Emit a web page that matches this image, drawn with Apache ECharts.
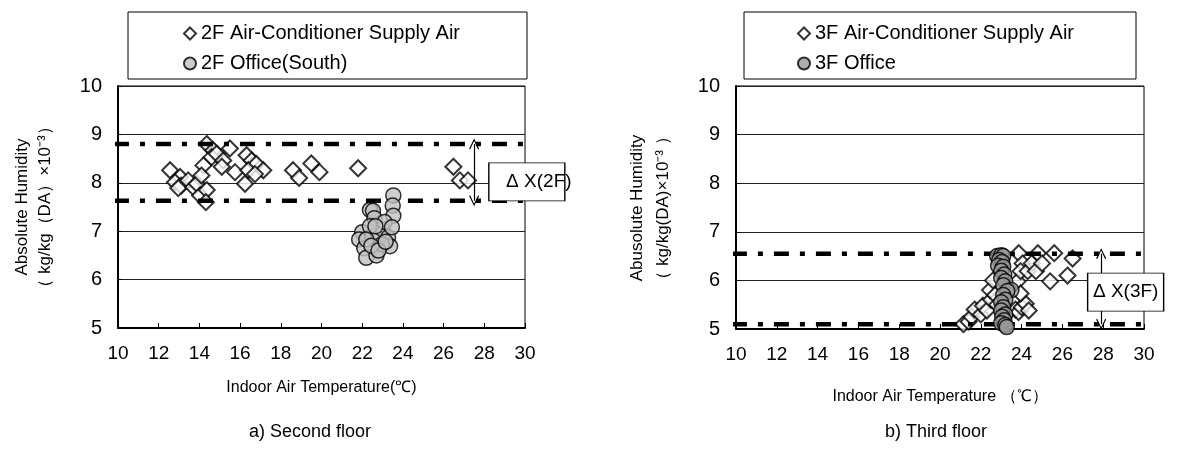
<!DOCTYPE html>
<html><head><meta charset="utf-8">
<script src="https://cdn.jsdelivr.net/npm/echarts@6/dist/echarts.min.js"></script>
<style>html,body{margin:0;padding:0;background:#fff}#c{width:1182px;height:461px}</style>
</head><body><div id="c"></div>
<script>
// ---- data ----
const seriesNames2F = ['2F Air-Conditioner Supply Air', '2F Office(South)'];
const seriesNames3F = ['3F Air-Conditioner Supply Air', '3F Office'];
const xTickRange = [10, 30, 2];
const yTickRange = [5, 10, 1];

const supply2F = [[12.56,8.26],[13.05,8.12],[12.8,8.01],[13.1,7.94],[13.45,8.05],[12.96,7.89],[13.7,7.91],[13.87,7.98],[14.03,7.74],[14.36,7.85],[14.32,7.6],[14.2,8.36],[14.1,8.15],[14.36,8.8],[14.68,8.67],[14.6,8.53],[14.85,8.6],[15.17,8.46],[15.1,8.33],[15.5,8.71],[15.75,8.22],[16.32,8.57],[16.57,8.46],[16.8,8.39],[17.14,8.26],[16.4,8.26],[16.24,7.98],[16.73,8.18],[18.6,8.26],[18.9,8.1],[19.5,8.4],[19.9,8.22],[21.8,8.3],[26.48,8.33],[26.8,8.05],[27.2,8.05]];
const office2F = [[23.53,7.74],[23.5,7.53],[23.53,7.32],[22.38,7.44],[22.53,7.42],[22.6,7.27],[22.0,6.98],[21.85,6.83],[22.1,6.65],[22.2,6.45],[22.7,6.5],[22.5,6.9],[22.78,6.94],[23.0,7.04],[23.27,6.87],[23.37,6.69],[22.97,6.73],[22.38,7.1],[23.1,7.19],[23.46,7.08],[22.2,6.83],[22.45,6.7],[22.8,6.6],[23.15,6.78],[22.65,7.1]];
const supply3F = [[21.15,5.1],[21.4,5.15],[21.55,5.25],[21.7,5.4],[22.0,5.3],[22.1,5.48],[22.3,5.38],[22.5,5.6],[22.45,5.8],[22.6,6.0],[22.7,5.7],[22.8,5.5],[23.7,5.4],[23.85,5.35],[24.0,5.45],[24.2,5.52],[24.35,5.38],[23.8,5.98],[23.95,5.73],[23.86,6.56],[24.05,6.35],[23.95,6.19],[24.3,6.19],[24.5,6.35],[24.7,6.19],[24.8,6.56],[25.0,6.35],[25.4,5.98],[25.6,6.56],[26.25,6.1],[26.5,6.45]];
const office3F = [[22.8,6.5],[23.0,6.52],[23.1,6.5],[22.9,6.42],[23.05,6.38],[22.85,6.3],[23.1,6.28],[23.0,6.2],[23.15,6.12],[23.0,6.05],[23.2,5.98],[23.1,5.9],[23.5,5.8],[23.3,5.78],[23.1,5.7],[23.2,5.6],[23.0,5.55],[23.1,5.45],[23.0,5.38],[23.2,5.3],[23.05,5.25],[23.15,5.18],[23.0,5.12],[23.2,5.08],[23.27,5.04]];

const band2F = [8.8, 7.63];   // upper / lower dash-dot levels
const band3F = [6.55, 5.1];
const bandX2F = [9.8, 30.8];  // extent of dash-dot lines
const bandX3F = [9.8, 31.7];
const arrowX = [27.5, 27.9];
const dxLabels = ['Δ X(2F)', 'Δ X(3F)'];
const dxLabelPos = [[29.5, 8.02], [29.1, 5.76]];

const FONT = 'Liberation Sans, Arial, sans-serif';
const chev = 'path://M0,10 L5,0 L10,10 L9,10.8 L5,2.4 L1,10.8 Z';

function xAx(i, name, gap) {
  return {gridIndex:i, type:'value', min:xTickRange[0], max:xTickRange[1], interval:xTickRange[2],
    axisLine:{show:true, onZero:false, lineStyle:{color:'#000', width:2}},
    axisTick:{show:true, inside:true, length:5, lineStyle:{color:'#000', width:1}},
    axisLabel:{fontSize:19, color:'#000', margin:16, fontFamily:FONT},
    splitLine:{show:false},
    name:name, nameLocation:'middle', nameGap:gap,
    nameTextStyle:{fontSize:16, color:'#000', fontFamily:FONT}};
}
function yAx(i) {
  return {gridIndex:i, type:'value', min:yTickRange[0], max:yTickRange[1], interval:yTickRange[2],
    axisLine:{show:true, onZero:false, lineStyle:{color:'#000', width:2}},
    axisTick:{show:true, inside:true, length:4, lineStyle:{color:'#000', width:1}},
    axisLabel:{fontSize:20, color:'#000', margin:16, fontFamily:FONT},
    splitLine:{show:true, lineStyle:{color:'#222', width:1}}};
}
function band(i, y, xr, extra) {
  return Object.assign({type:'line', xAxisIndex:i, yAxisIndex:i, clip:false, symbol:'none', silent:true,
    data:[[xr[0], y],[xr[1], y]], z:4,
    lineStyle:{color:'#000', width:4.5, type:[15,11,5,11], cap:'butt'}}, extra || {});
}
function arrowMark(i, b) {
  return {silent:true, symbol:[chev, chev], symbolSize:[10,11], precision:3,
    lineStyle:{color:'#000', width:1.2, type:'solid'}, label:{show:false},
    data:[[{coord:[arrowX[i], b[0]]},{coord:[arrowX[i], b[1]]}]]};
}
function boxMark(i, off) {
  return {silent:true, z:10, data:[{coord:dxLabelPos[i], symbol:'rect', symbolSize:[76,38], symbolOffset:[off,0],
    itemStyle:{color:'#fff', borderColor:'#000', borderWidth:1},
    label:{show:true, position:'inside', offset:[off,0], formatter:dxLabels[i], color:'#000', fontSize:19, fontFamily:FONT}}]};
}

const chart = echarts.init(document.getElementById('c'), null, {renderer:'canvas'});
chart.setOption({
  backgroundColor:'#fff',
  animation:false,
  grid:[
    {left:118, top:86, width:407, height:242, show:true, borderColor:'#000', borderWidth:1},
    {left:736, top:86, width:408, height:243, show:true, borderColor:'#000', borderWidth:1}
  ],
  xAxis:[xAx(0, 'Indoor Air Temperature(℃)', 52), xAx(1, 'Indoor Air Temperature （℃）', 60)],
  yAxis:[yAx(0), yAx(1)],
  legend:[
    {data:seriesNames2F, orient:'vertical', left:178, top:17, itemWidth:12, itemHeight:12, itemGap:7, selectedMode:false,
     textStyle:{fontSize:20, color:'#000', fontFamily:FONT, lineHeight:23}},
    {data:seriesNames3F, orient:'vertical', left:792, top:17, itemWidth:12, itemHeight:12, itemGap:7, selectedMode:false,
     textStyle:{fontSize:20, color:'#000', fontFamily:FONT, lineHeight:23}}
  ],
  graphic:[
    {type:'rect', shape:{x:128, y:12, width:399, height:67}, style:{fill:'#fff', stroke:'#000', lineWidth:1}, z:-1},
    {type:'rect', shape:{x:744, y:12, width:392, height:67}, style:{fill:'#fff', stroke:'#000', lineWidth:1}, z:-1},
    {type:'text', x:34, y:207, rotation:Math.PI/2, style:{text:'Absolute Humidity\n（ kg/kg（DA）×10⁻³）', align:'center', verticalAlign:'middle', font:'17px '+FONT, lineHeight:23, fill:'#000'}},
    {type:'text', x:650, y:208, rotation:Math.PI/2, style:{text:'Abusolute Humidity\n（ kg/kg(DA)×10⁻³ ）', align:'center', verticalAlign:'middle', font:'17px '+FONT, lineHeight:26, fill:'#000'}},
    {type:'text', x:310, y:432, style:{text:'a) Second floor', align:'center', verticalAlign:'middle', font:'18px '+FONT, fill:'#000'}},
    {type:'text', x:936, y:432, style:{text:'b) Third floor', align:'center', verticalAlign:'middle', font:'18px '+FONT, fill:'#000'}}
  ],
  series:[
    {name:seriesNames2F[0], type:'scatter', xAxisIndex:0, yAxisIndex:0, data:supply2F, symbol:'diamond', symbolSize:16, z:3,
     itemStyle:{color:'#fff', borderColor:'#000', borderWidth:2}},
    band(0, band2F[0], bandX2F, {markLine:arrowMark(0, band2F)}),
    band(0, band2F[1], bandX2F, {markPoint:boxMark(0, 12)}),
    {name:seriesNames2F[1], type:'scatter', xAxisIndex:0, yAxisIndex:0, data:office2F, symbol:'circle', symbolSize:15, z:5,
     itemStyle:{color:'#c0c0c0', borderColor:'#000', borderWidth:1.5}},

    {name:seriesNames3F[0], type:'scatter', xAxisIndex:1, yAxisIndex:1, data:supply3F, symbol:'diamond', symbolSize:16, z:3,
     itemStyle:{color:'#fff', borderColor:'#000', borderWidth:2}},
    band(1, band3F[0], bandX3F, {markLine:arrowMark(1, band3F)}),
    band(1, band3F[1], bandX3F, {markPoint:boxMark(1, 0)}),
    {name:seriesNames3F[1], type:'scatter', xAxisIndex:1, yAxisIndex:1, data:office3F, symbol:'circle', symbolSize:15, z:5,
     itemStyle:{color:'#999', borderColor:'#000', borderWidth:1.5}}
  ]
});
</script></body></html>
